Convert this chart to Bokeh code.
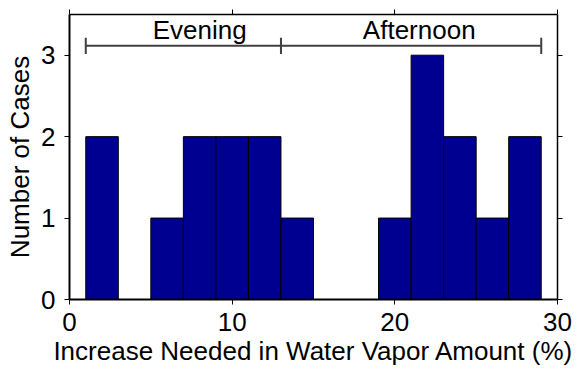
from bokeh.plotting import figure
from bokeh.models import LinearAxis, FixedTicker, Range1d, ColumnDataSource
from bokeh.core.properties import value
from bokeh.embed import file_html
from bokeh.resources import INLINE

# Data
bin_centers = [2, 4, 6, 8, 10, 12, 14, 16, 18, 20, 22, 24, 26, 28]
counts = [2, 0, 1, 2, 2, 2, 1, 0, 0, 1, 3, 2, 1, 2]
bin_width = 2
x_ticks = [0, 10, 20, 30]
y_ticks = [0, 1, 2, 3]
periods = ["Evening", "Afternoon"]
period_start = [1, 13]
period_end = [13, 29]
period_label_x = [8, 21.5]
bracket_y = 3.115
label_y = 3.306

FONT = "Liberation Sans"
FS = "26px"

p = figure(width=584, height=372, output_backend="svg", toolbar_location=None,
           x_range=Range1d(0, 30), y_range=Range1d(0, 3.5),
           min_border_left=69, min_border_right=27, min_border_top=14, min_border_bottom=73)
p.outline_line_color = None
p.xgrid.visible = False
p.ygrid.visible = False
p.background_fill_color = "white"
p.border_fill_color = "white"

src = ColumnDataSource(dict(x=bin_centers, top=counts))
p.vbar(x="x", top="top", width=bin_width, bottom=0, source=src,
       fill_color="#000090", line_color="black", line_width=1)

# bracket lines
p.segment(x0=period_start, x1=period_end, y0=[bracket_y]*2, y1=[bracket_y]*2,
          line_color="#404040", line_width=2)
caps = [1, 13, 29]
p.segment(x0=caps, x1=caps, y0=[bracket_y - 0.1]*3, y1=[bracket_y + 0.1]*3,
          line_color="#404040", line_width=2)
p.text(x=period_label_x, y=[label_y]*2, text=periods, text_font=value(FONT),
       text_font_size=FS, text_align="center", text_baseline="middle",
       text_color="black")

def style(ax, lw):
    ax.axis_line_color = "black"
    ax.axis_line_width = lw
    ax.major_tick_line_color = "black"
    ax.major_tick_line_width = 1
    ax.major_tick_in = 0
    ax.major_tick_out = 5
    ax.minor_tick_line_color = None
    ax.major_label_text_font = FONT
    ax.major_label_text_font_size = FS
    ax.major_label_text_color = "black"
    ax.axis_label_text_font = FONT
    ax.axis_label_text_font_size = FS
    ax.axis_label_text_font_style = "normal"
    ax.axis_label_text_color = "black"

xa = p.xaxis[0]
style(xa, 2)
xa.ticker = FixedTicker(ticks=x_ticks)
xa.axis_label = "Increase Needed in Water Vapor Amount (%)"
xa.major_label_standoff = 8
xa.axis_label_standoff = 2

ya = p.yaxis[0]
style(ya, 2)
ya.ticker = FixedTicker(ticks=y_ticks)
ya.axis_label = "Number of Cases"
ya.major_label_standoff = 9
ya.axis_label_standoff = 3

top_ax = LinearAxis(ticker=FixedTicker(ticks=x_ticks),
                    major_label_overrides={t: "" for t in x_ticks})
style(top_ax, 1.5)
top_ax.major_label_text_font_size = "1px"
top_ax.major_label_standoff = 0
p.add_layout(top_ax, "above")

right_ax = LinearAxis(ticker=FixedTicker(ticks=y_ticks),
                      major_label_overrides={t: "" for t in y_ticks})
style(right_ax, 1.5)
right_ax.major_label_text_font_size = "1px"
right_ax.major_label_standoff = 0
p.add_layout(right_ax, "right")

open("out.html", "w").write(file_html(p, INLINE))
